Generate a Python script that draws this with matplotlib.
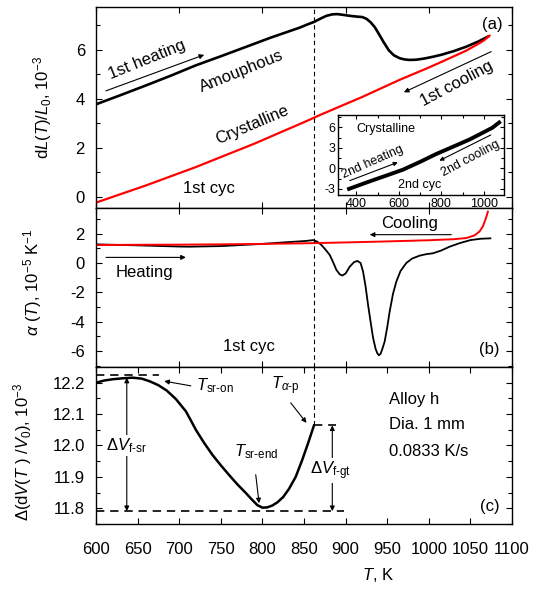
import numpy as np
import matplotlib
matplotlib.use('Agg')
import matplotlib.pyplot as plt
from matplotlib.ticker import MultipleLocator

plt.rcParams['font.family'] = ['Liberation Sans', 'DejaVu Sans']
plt.rcParams['mathtext.fontset'] = 'custom'
plt.rcParams['mathtext.rm'] = 'Liberation Sans'
plt.rcParams['mathtext.it'] = 'Liberation Sans:italic'
plt.rcParams['mathtext.bf'] = 'Liberation Sans:bold'
plt.rcParams['axes.unicode_minus'] = False
plt.rcParams['font.size'] = 12

# ---- panel (a): dL/L0, 1st cycle
T_a_heat = [600, 630, 660, 690, 720, 750, 780, 810, 845, 855, 862, 870, 877, 884, 890, 897, 905,
            913, 920, 925, 930, 935, 940, 946, 952, 958, 965, 971, 977, 985, 995, 1005, 1015, 1030,
            1045, 1060, 1071]
dL_heat = [3.78, 4.16, 4.55, 4.95, 5.37, 5.74, 6.12, 6.50, 6.91, 7.05, 7.14, 7.28, 7.39, 7.45,
           7.46, 7.43, 7.39, 7.36, 7.34, 7.27, 7.13, 6.93, 6.65, 6.3, 5.98, 5.78, 5.66, 5.61, 5.59,
           5.6, 5.65, 5.72, 5.8, 5.95, 6.13, 6.35, 6.54]
T_a_cool = [600, 660, 720, 790, 852, 873, 920, 965, 1000, 1025, 1045, 1057, 1066, 1073]
dL_cool = [-0.23, 0.47, 1.22, 2.17, 3.08, 3.4, 4.08, 4.78, 5.28, 5.66, 5.97, 6.2, 6.38, 6.58]

# inset: 2nd cycle, crystalline
T_in = [366, 450, 500, 560, 619, 700, 775, 850, 931, 1000, 1040, 1071]
dL_in = [-3.0, -2.05, -1.5, -0.85, -0.2, 0.95, 2.09, 3.1, 4.2, 5.3, 5.95, 6.7]

# ---- panel (b): alpha(T)
T_b_heat = [600, 650, 700, 712, 750, 800, 830, 852, 861, 866, 871, 876, 881, 885, 889, 893, 896,
            900, 905, 910, 914, 918, 921, 924, 927, 930, 933, 936, 938, 940, 942, 944, 947, 950,
            953, 957, 961, 966, 973, 980, 989, 997, 1005, 1015, 1025, 1037, 1050, 1062, 1074]
alpha_heat = [1.27, 1.2, 1.12, 1.11, 1.15, 1.3, 1.42, 1.5, 1.56, 1.45, 1.22, 0.9, 0.54, 0.05, -0.48,
              -0.78, -0.86, -0.72, -0.25, 0.05, 0.14, 0.0, -0.59, -1.6, -2.86, -4.0, -5.1, -5.85,
              -6.15, -6.3, -6.2, -5.9, -5.35, -4.4, -3.3, -2.1, -1.27, -0.55, 0.0, 0.3, 0.5, 0.6,
              0.66, 0.85, 1.11, 1.35, 1.56, 1.65, 1.68]
T_b_cool = [600, 650, 700, 750, 800, 850, 900, 950, 1000, 1030, 1045, 1055, 1061, 1065, 1068, 1070, 1071]
alpha_cool = [1.22, 1.24, 1.25, 1.27, 1.3, 1.34, 1.4, 1.47, 1.55, 1.62, 1.7, 1.88, 2.15, 2.5, 2.95,
              3.3, 3.5]

# ---- panel (c): relative volume change
T_c = [600, 610, 620, 632, 644, 655, 665, 675, 685, 696, 708, 714, 720, 730, 740, 750, 760, 770,
       780, 788, 794, 800, 806, 812, 818, 825, 832, 840, 848, 855, 862]
dV_c = [12.2, 12.207, 12.211, 12.214, 12.216, 12.213, 12.204, 12.192, 12.175, 12.148, 12.109,
        12.08, 12.05, 12.008, 11.97, 11.937, 11.906, 11.876, 11.849, 11.826, 11.81, 11.802, 11.803,
        11.809, 11.819, 11.836, 11.862, 11.9, 11.955, 12.008, 12.064]

T_alpha_p = 862
dV_top = 12.224
dV_bottom = 11.791
dV_end = 12.064

fig = plt.figure(figsize=(5.33, 5.93), dpi=100)
W, H = 533, 593
def box(x0, y0, x1, y1):
    return [x0 / W, 1 - y1 / H, (x1 - x0) / W, (y1 - y0) / H]

ax_a = fig.add_axes(box(96, 7, 512, 208))
ax_b = fig.add_axes(box(96, 208, 512, 367))
ax_c = fig.add_axes(box(96, 367, 512, 524))
ax_in = fig.add_axes(box(338, 115, 504, 195))

for ax in (ax_a, ax_b, ax_c, ax_in):
    ax.tick_params(which='both', direction='in', top=True, right=True, width=0.8)
    ax.tick_params(which='major', length=4.5)
    ax.tick_params(which='minor', length=3)
    for s in ax.spines.values():
        s.set_linewidth(1.0)

for ax in (ax_a, ax_b, ax_c):
    ax.set_xlim(600, 1100)
    ax.tick_params(axis='y', pad=8)

arr = dict(arrowstyle='-|>', color='black', lw=0.8, mutation_scale=7, shrinkA=0, shrinkB=0)

# (a)
ax_a.plot(T_a_heat, dL_heat, color='black', lw=1.9)
ax_a.plot(T_a_cool, dL_cool, color='red', lw=1.6)
ax_a.axvline(T_alpha_p, color='black', lw=0.8, ls=(0, (4, 3)))
ax_a.set_ylim(-0.45, 7.75)
ax_a.yaxis.set_major_locator(MultipleLocator(2))
ax_a.yaxis.set_minor_locator(MultipleLocator(1))
ax_a.xaxis.set_major_locator(MultipleLocator(100))
ax_a.set_xticklabels([])
ax_a.set_ylabel(r'd$L$($T$)/$L_0$, 10$^{-3}$')
ax_a.yaxis.set_label_coords(-0.1, 0.5)
ax_a.text(661, 5.59, '1st heating', rotation=22, ha='center', va='center')
ax_a.annotate('', xy=(730, 5.8), xytext=(612, 4.33), arrowprops=arr)
ax_a.text(775, 5.11, 'Amouphous', rotation=22, ha='center', va='center')
ax_a.text(788, 2.94, 'Crystalline', rotation=23, ha='center', va='center')
ax_a.text(736, 0.35, '1st cyc', ha='center', va='center')
ax_a.text(1076, 7.02, '(a)', ha='center', va='center')
ax_a.text(1034, 4.64, '1st cooling', rotation=28, ha='center', va='center')
ax_a.annotate('', xy=(970, 4.27), xytext=(1075, 5.93), arrowprops=arr)

# inset
ax_in.plot(T_in, dL_in, color='black', lw=2.8)
ax_in.set_xlim(314, 1094)
ax_in.set_ylim(-3.9, 7.8)
ax_in.xaxis.set_major_locator(MultipleLocator(200))
ax_in.xaxis.set_minor_locator(MultipleLocator(100))
ax_in.yaxis.set_major_locator(MultipleLocator(3))
ax_in.yaxis.set_minor_locator(MultipleLocator(1.5))
ax_in.tick_params(labelsize=9, pad=2)
ax_in.tick_params(which='major', length=3)
ax_in.tick_params(which='minor', length=2)
ax_in.text(400, 5.75, 'Crystalline', fontsize=9, ha='left', va='center')
ax_in.text(478, 0.9, '2nd heating', fontsize=9, rotation=24, ha='center', va='center')
ax_in.annotate('', xy=(595, 0.88), xytext=(369, -1.8), arrowprops=dict(arr, mutation_scale=6))
ax_in.text(935, 1.4, '2nd cooling', fontsize=9, rotation=28, ha='center', va='center')
ax_in.annotate('', xy=(790, 1.12), xytext=(1032, 4.88), arrowprops=dict(arr, mutation_scale=6))
ax_in.text(697, -2.5, '2nd cyc', fontsize=9, ha='center', va='center')

# (b)
ax_b.plot(T_b_heat, alpha_heat, color='black', lw=1.3)
ax_b.plot(T_b_cool, alpha_cool, color='red', lw=1.4)
ax_b.axvline(T_alpha_p, color='black', lw=0.8, ls=(0, (4, 3)))
ax_b.set_ylim(-7.1, 3.75)
ax_b.yaxis.set_major_locator(MultipleLocator(2))
ax_b.yaxis.set_minor_locator(MultipleLocator(1))
ax_b.xaxis.set_major_locator(MultipleLocator(100))
ax_b.set_xticklabels([])
ax_b.set_ylabel(r'$\alpha$ ($T$), 10$^{-5}$ K$^{-1}$')
ax_b.yaxis.set_label_coords(-0.125, 0.53)
ax_b.text(977, 2.72, 'Cooling', ha='center', va='center')
ax_b.annotate('', xy=(929, 1.93), xytext=(1027, 1.93), arrowprops=arr)
ax_b.text(658, -0.68, 'Heating', ha='center', va='center')
ax_b.annotate('', xy=(708, 0.38), xytext=(612, 0.38), arrowprops=arr)
ax_b.text(784, -5.67, '1st cyc', ha='center', va='center')
ax_b.text(1073, -5.9, '(b)', ha='center', va='center')

# (c)
ax_c.plot(T_c, dV_c, color='black', lw=1.8)
ax_c.plot([T_alpha_p, T_alpha_p], [dV_end, 12.25], color='black', lw=0.8, ls=(0, (4, 3)))
ax_c.plot([600, 676], [dV_top, dV_top], color='black', lw=1.2, ls=(0, (5, 3.5)))
ax_c.plot([600, 898], [dV_bottom, dV_bottom], color='black', lw=1.2, ls=(0, (5, 3.5)))
ax_c.plot([T_alpha_p, 888], [dV_end, dV_end], color='black', lw=1.2, ls=(0, (5, 3.5)))
ax_c.set_ylim(11.75, 12.25)
ax_c.yaxis.set_major_locator(MultipleLocator(0.1))
ax_c.yaxis.set_minor_locator(MultipleLocator(0.05))
ax_c.xaxis.set_major_locator(MultipleLocator(50))
ax_c.tick_params(axis='x', pad=13)
ax_c.set_ylabel(r'$\Delta$(d$V$($T$ ) /$V_0$), 10$^{-3}$')
ax_c.yaxis.set_label_coords(-0.15, 0.46)
ax_c.set_xlabel(r'$T$, K')
ax_c.xaxis.set_label_coords(0.678, -0.27)

darr = dict(arrowstyle='<|-|>', color='black', lw=0.8, mutation_scale=7, shrinkA=0, shrinkB=0)
ax_c.annotate('', xy=(637, 12.216), xytext=(637, dV_bottom), arrowprops=darr)
ax_c.text(637, 12.0, r'$\Delta V_{\rm f\text{-}sr}$', ha='center', va='center',
          bbox=dict(facecolor='white', edgecolor='none', pad=1))
ax_c.annotate('', xy=(884, dV_end), xytext=(884, dV_bottom), arrowprops=darr)
ax_c.text(882, 11.92, r'$\Delta V_{\rm f\text{-}gt}$', ha='center', va='center',
          bbox=dict(facecolor='white', edgecolor='none', pad=1))
ax_c.text(720, 12.19, r'$T_{\rm sr\text{-}on}$', ha='left', va='center')
ax_c.annotate('', xy=(682, 12.205), xytext=(714, 12.19), arrowprops=arr)
ax_c.text(766, 11.98, r'$T_{\rm sr\text{-}end}$', ha='left', va='center')
ax_c.annotate('', xy=(796, 11.816), xytext=(792, 11.907), arrowprops=arr)
ax_c.text(810, 12.19, r'$T_{\alpha\text{-}\rm p}$', ha='left', va='center')
ax_c.annotate('', xy=(853, 12.072), xytext=(834, 12.136), arrowprops=arr)
ax_c.text(952, 12.147, 'Alloy h', ha='left', va='center')
ax_c.text(952, 12.067, 'Dia. 1 mm', ha='left', va='center')
ax_c.text(952, 11.98, '0.0833 K/s', ha='left', va='center')
ax_c.text(1073, 11.805, '(c)', ha='center', va='center')

fig.savefig('out.png', dpi=100)
